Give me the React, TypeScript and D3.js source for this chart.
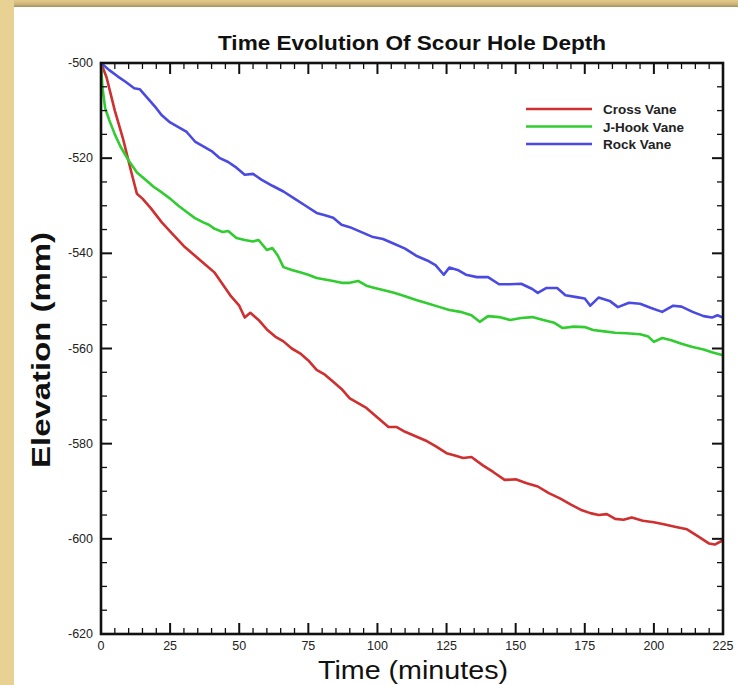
import React, { useEffect } from "react";
import * as d3 from "d3";

const W = 738;
const H = 685;

const crossT = [0,2,5,8,11,13,15,18,22,26,30,34,38,41,44,47,50,52,54,57,60,63,66,69,72,75,78,81,84,87,90,93,96,100,104,107,110,114,118,121,125,128,131,134,138,142,146,150,154,158,162,166,170,174,177,180,183,186,189,192,196,200,204,208,212,216,220,222,225];
const crossV = [-500,-503,-510,-516,-523,-527.5,-528.5,-530.5,-533.5,-536,-538.5,-540.5,-542.5,-544,-546.5,-549,-551,-553.5,-552.5,-554,-556,-557.5,-558.5,-560,-561,-562.5,-564.5,-565.5,-567,-568.5,-570.5,-571.5,-572.5,-574.5,-576.5,-576.5,-577.5,-578.5,-579.5,-580.5,-582,-582.5,-583,-582.8,-584.5,-586,-587.6,-587.5,-588.3,-589,-590.4,-591.5,-592.8,-594,-594.6,-595,-594.8,-595.8,-596,-595.5,-596.2,-596.5,-597,-597.5,-598,-599.5,-601,-601.2,-600.3];

const rockT = [0,3,6,9,12,14,17,20,22,25,28,31,34,37,40,43,46,49,52,55,58,62,66,70,74,78,81,84,87,90,94,98,102,106,110,114,118,121,124,126,129,132,136,140,144,148,152,156,158,161,165,168,172,175,177,180,184,187,191,195,199,203,207,210,214,218,221,223,225];
const rockV = [-500,-501.5,-502.8,-504,-505.3,-505.5,-507.5,-509.5,-511,-512.5,-513.5,-514.5,-516.5,-517.5,-518.5,-520,-520.8,-522,-523.5,-523.3,-524.5,-525.8,-527,-528.5,-530,-531.5,-532,-532.5,-534,-534.5,-535.5,-536.5,-537,-538,-539,-540.5,-541.5,-542.5,-544.5,-543,-543.5,-544.5,-545,-545,-546.5,-546.5,-546.4,-547.5,-548.3,-547.3,-547.3,-548.8,-549.2,-549.5,-551,-549.3,-550,-551.3,-550.4,-550.6,-551.5,-552.3,-551,-551.2,-552.3,-553.2,-553.5,-553,-553.5];

const jhookT = [0,0.5,1.5,3,5,7,10,13,16,19,22,25,28,31,34,37,39,41,44,46,49,52,55,57,60,62,64,66,69,72,75,78,81,84,87,90,93,96,99,102,106,110,114,118,122,126,130,134,137,140,144,148,152,156,160,164,167,171,175,178,182,186,190,195,198,200,203,206,210,214,218,221,225];
const jhookV = [-500,-505,-509.5,-512,-515,-517.5,-520.5,-523,-524.5,-526,-527.2,-528.5,-530,-531.3,-532.6,-533.5,-534,-534.8,-535.5,-535.3,-536.8,-537.2,-537.5,-537.2,-539.3,-538.9,-540.5,-542.9,-543.5,-544,-544.5,-545.2,-545.5,-545.8,-546.2,-546.2,-545.8,-546.8,-547.3,-547.7,-548.3,-549,-549.8,-550.5,-551.2,-551.9,-552.3,-553,-554.4,-553.2,-553.4,-554,-553.6,-553.4,-554,-554.6,-555.7,-555.4,-555.5,-556.1,-556.4,-556.7,-556.8,-557,-557.5,-558.6,-557.8,-558.2,-559,-559.7,-560.2,-560.8,-561.4];

const seriesNames = ["Cross Vane", "J-Hook Vane", "Rock Vane"];
const seriesColors = ["#cf2f2f", "#30cc30", "#4a4ae2"];
const xTicks = [0, 25, 50, 75, 100, 125, 150, 175, 200, 225];
const yTicks = [-500, -520, -540, -560, -580, -600, -620];

const FONT = "'Liberation Sans', Arial, Helvetica, sans-serif";

export default function App() {
  useEffect(() => {
    document.body.style.margin = "0";
  }, []);

  const left = 101, right = 723, top = 63, bottom = 634;
  const x = d3.scaleLinear().domain([0, 225]).range([left, right]);
  const y = d3.scaleLinear().domain([-500, -620]).range([top, bottom]);

  const series = [
    { t: crossT, v: crossV },
    { t: jhookT, v: jhookV },
    { t: rockT, v: rockV },
  ];
  const line = d3.line<[number, number]>().x((d) => x(d[0])).y((d) => y(d[1]));

  const xMinor = d3.range(0, 226, 5).filter((v) => v % 25 !== 0);
  const yMinor = d3.range(-500, -621, -5).filter((v) => v % 20 !== 0);
  const MAJ = 11, MIN = 6;

  return (
    <svg width={W} height={H} style={{ position: "absolute", left: 0, top: 0, display: "block" }}>
      <defs>
        <linearGradient id="goldL" x1="0" x2="1" y1="0" y2="0">
          <stop offset="0" stopColor="#e8d293" />
          <stop offset="0.6" stopColor="#d6bd7c" />
          <stop offset="1" stopColor="#a89060" />
        </linearGradient>
        <linearGradient id="goldT" x1="0" x2="0" y1="0" y2="1">
          <stop offset="0" stopColor="#e2ca8a" />
          <stop offset="0.6" stopColor="#cfb57a" />
          <stop offset="1" stopColor="#a58e60" />
        </linearGradient>
      </defs>
      <rect x={0} y={0} width={W} height={H} fill="url(#goldL)" />
      <rect x={14} y={0} width={W - 14} height={7} fill="url(#goldT)" />
      <rect x={14} y={7} width={W - 14} height={H - 7} fill="#ffffff" />

      <text x={412} y={50} textAnchor="middle" fontFamily={FONT} fontWeight="bold" fontSize={21} fill="#111" textLength={388} lengthAdjust="spacingAndGlyphs">
        Time Evolution Of Scour Hole Depth
      </text>

      {series.map((s, i) => (
        <path key={i} d={line(s.t.map((t, k) => [t, s.v[k]] as [number, number])) || ""} fill="none" stroke={seriesColors[i]} strokeWidth={2.6} strokeLinejoin="round" />
      ))}

      <g stroke="#111" strokeWidth={2}>
        {xTicks.map((t) => (
          <g key={"xt" + t}>
            <line x1={x(t)} x2={x(t)} y1={bottom} y2={bottom - MAJ} />
            <line x1={x(t)} x2={x(t)} y1={top} y2={top + MAJ} />
          </g>
        ))}
        {xMinor.map((t) => (
          <g key={"xm" + t}>
            <line x1={x(t)} x2={x(t)} y1={bottom} y2={bottom - MIN} strokeWidth={1.3} />
            <line x1={x(t)} x2={x(t)} y1={top} y2={top + MIN} strokeWidth={1.3} />
          </g>
        ))}
        {yTicks.map((v) => (
          <g key={"yt" + v}>
            <line x1={left} x2={left + MAJ} y1={y(v)} y2={y(v)} />
            <line x1={right} x2={right - MAJ} y1={y(v)} y2={y(v)} />
          </g>
        ))}
        {yMinor.map((v) => (
          <g key={"ym" + v}>
            <line x1={left} x2={left + MIN} y1={y(v)} y2={y(v)} strokeWidth={1.3} />
            <line x1={right} x2={right - MIN} y1={y(v)} y2={y(v)} strokeWidth={1.3} />
          </g>
        ))}
      </g>
      <rect x={left} y={top} width={right - left} height={bottom - top} fill="none" stroke="#111" strokeWidth={2.6} />

      <g fontFamily={FONT} fontSize={12.5} fill="#222">
        {xTicks.map((t) => (
          <text key={"xl" + t} x={x(t)} y={bottom + 16} textAnchor="middle">{t}</text>
        ))}
        {yTicks.map((v) => (
          <text key={"yl" + v} x={left - 8} y={y(v) + 4} textAnchor="end">{v}</text>
        ))}
      </g>

      <text x={413} y={679} textAnchor="middle" fontFamily={FONT} fontSize={26} fill="#111" textLength={190} lengthAdjust="spacingAndGlyphs">
        Time (minutes)
      </text>
      <text transform={`translate(50,350) rotate(-90)`} textAnchor="middle" fontFamily={FONT} fontWeight="bold" fontSize={25} fill="#111" textLength={236} lengthAdjust="spacingAndGlyphs">
        Elevation (mm)
      </text>

      {seriesNames.map((n, i) => (
        <g key={n}>
          <line x1={526} x2={592} y1={109 + i * 17.5} y2={109 + i * 17.5} stroke={seriesColors[i]} strokeWidth={2.6} />
          <text x={603} y={109 + i * 17.5 + 5} fontFamily={FONT} fontWeight="bold" fontSize={13.5} fill="#222">{n}</text>
        </g>
      ))}
    </svg>
  );
}
